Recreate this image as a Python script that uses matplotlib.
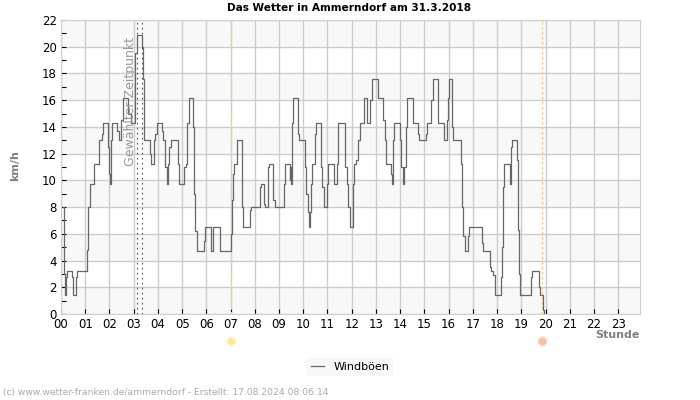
import matplotlib
matplotlib.use('Agg')
import matplotlib.pyplot as plt

# hours since midnight / gusts in km/h
hours = [0.08, 0.11, 0.14, 0.17, 0.19, 0.24, 0.40, 0.44, 0.51, 0.57, 0.62, 0.68, 1.06, 1.09, 1.13, 1.18, 1.34,
         1.38, 1.47, 1.56, 1.62, 1.68, 1.74, 1.89, 1.95, 2.00, 2.03, 2.06, 2.12, 2.27, 2.32, 2.38, 2.45, 2.49,
         2.55, 2.70, 2.78, 2.89, 3.00, 3.07, 3.13, 3.28, 3.33, 3.39, 3.42, 3.44, 3.61, 3.67, 3.71, 3.78, 3.83,
         3.90, 3.96, 4.11, 4.16, 4.22, 4.27, 4.31, 4.37, 4.41, 4.47, 4.52, 4.77, 4.83, 4.87, 5.03, 5.08, 5.15,
         5.21, 5.27, 5.44, 5.46, 5.50, 5.55, 5.60, 5.86, 5.91, 5.93, 6.15, 6.21, 6.29, 6.49, 6.56, 6.97, 7.00,
         7.05, 7.09, 7.13, 7.26, 7.42, 7.46, 7.50, 7.74, 7.81, 7.84, 8.15, 8.22, 8.25, 8.32, 8.36, 8.42, 8.50,
         8.55, 8.58, 8.73, 8.77, 8.82, 9.15, 9.19, 9.24, 9.40, 9.44, 9.46, 9.49, 9.53, 9.58, 9.73, 9.78, 9.82,
         10.02, 10.06, 10.11, 10.18, 10.22, 10.25, 10.28, 10.33, 10.38, 10.43, 10.48, 10.53, 10.68, 10.72, 10.78,
         10.85, 10.93, 10.98, 11.02, 11.19, 11.26, 11.34, 11.38, 11.42, 11.67, 11.74, 11.81, 11.85, 11.92, 12.00,
         12.04, 12.10, 12.18, 12.25, 12.33, 12.40, 12.50, 12.58, 12.62, 12.67, 12.75, 12.83, 13.00, 13.07, 13.26,
         13.30, 13.36, 13.41, 13.58, 13.62, 13.66, 13.70, 13.74, 13.92, 13.98, 14.05, 14.12, 14.17, 14.23, 14.28,
         14.45, 14.52, 14.68, 14.74, 14.78, 15.01, 15.06, 15.10, 15.24, 15.29, 15.35, 15.51, 15.57, 15.62, 15.76,
         15.82, 15.90, 15.93, 15.97, 16.01, 16.09, 16.14, 16.18, 16.48, 16.52, 16.56, 16.61, 16.68, 16.76, 16.80,
         16.84, 17.34, 17.39, 17.42, 17.67, 17.72, 17.76, 17.83, 17.90, 18.11, 18.18, 18.22, 18.25, 18.29, 18.44,
         18.52, 18.56, 18.62, 18.79, 18.83, 18.87, 18.91, 18.95, 19.35, 19.40, 19.45, 19.68, 19.73, 19.78, 19.85,
         19.88, 19.91, 19.95]
gusts = [8.0, 6.3, 3.0, 1.4, 2.8, 3.2, 3.2, 2.8, 1.4, 1.4, 2.8, 3.2, 3.2, 4.8, 8.0, 9.7, 9.7,
         11.2, 11.2, 13.0, 13.0, 13.5, 14.3, 14.3, 12.5, 10.5, 9.7, 13.0, 14.3, 14.3, 13.7, 13.0, 13.0, 14.5,
         16.2, 16.2, 15.0, 14.3, 14.3, 19.5, 20.9, 20.9, 20.0, 17.6, 14.0, 13.0, 13.0, 12.0, 11.2, 11.2, 13.0,
         13.5, 14.3, 14.3, 13.7, 13.0, 13.0, 11.0, 9.7, 11.2, 12.5, 13.0, 13.0, 11.2, 9.7, 9.7, 11.0, 11.2,
         14.3, 16.2, 16.2, 14.0, 9.0, 6.2, 4.7, 4.7, 5.5, 6.5, 6.5, 4.7, 6.5, 6.5, 4.7, 4.7, 6.0,
         8.5, 10.5, 11.2, 13.0, 13.0, 8.0, 6.5, 6.5, 7.8, 8.0, 8.0, 9.5, 9.7, 9.7, 8.2, 8.0, 8.0,
         11.0, 11.2, 11.2, 8.5, 8.0, 8.0, 9.7, 11.2, 11.2, 10.0, 11.0, 9.7, 14.3, 16.2, 16.2, 13.5, 13.0,
         13.0, 11.0, 9.0, 7.6, 7.6, 6.5, 7.6, 9.7, 11.2, 11.2, 13.5, 14.3, 14.3, 11.0, 9.5,
         8.0, 8.0, 9.7, 11.2, 11.2, 9.7, 9.7, 11.2, 14.3, 14.3, 11.0, 9.7, 8.0, 6.5, 6.5,
         9.7, 11.2, 11.5, 13.0, 14.3, 14.3, 16.2, 16.2, 14.3, 14.3, 16.0, 17.6, 17.6, 16.2, 16.2,
         14.5, 13.0, 11.2, 11.2, 10.5, 9.7, 13.0, 14.3, 14.3, 13.0, 11.0, 9.7, 11.0, 14.0, 16.2,
         16.2, 14.3, 14.3, 13.5, 13.0, 13.0, 13.5, 14.3, 14.3, 16.0, 17.6, 17.6, 14.3, 14.3, 14.3,
         13.0, 13.0, 14.5, 16.2, 17.6, 17.6, 14.0, 13.0, 13.0, 11.2, 8.0, 5.8, 4.7, 4.7, 5.8,
         6.5, 6.5, 5.3, 4.7, 4.7, 3.5, 3.2, 2.9, 1.4, 1.4, 2.8, 5.0, 9.5, 11.2, 11.2,
         9.7, 12.5, 13.0, 13.0, 11.5, 6.3, 3.0, 1.4, 1.4, 2.8, 3.2, 3.2, 2.0, 1.4, 1.4,
         1.0, 0.3, 0.0]
hour_labels = ['%02d' % h for h in range(24)]
selected_times = [3.13, 3.33]
sunrise = 7.0
sunset = 19.87

W, H = 700, 400
fig = plt.figure(figsize=(7, 4), dpi=100, facecolor='white')
ax = fig.add_axes([61/W, 1-314/H, 579/W, 294/H])
ax.set_xlim(0, 23.9)
ax.set_ylim(0, 22)

# stripes and grid
for y in range(0, 22, 4):
    ax.axhspan(y, y+2, color='#f8f8f8', lw=0, zorder=0)
ax.set_xticks(range(24))
ax.set_xticklabels(hour_labels)
ax.set_yticks(range(0, 23, 2))
ax.set_yticks(range(1, 22, 2), minor=True)
ax.grid(True, which='major', color='#cccccc', lw=1.0, zorder=1)
ax.set_axisbelow(True)
ax.tick_params(axis='both', which='major', direction='in', length=3.5, width=0.8, labelsize=8.5, color='black', pad=3)
ax.tick_params(axis='y', which='minor', direction='in', length=3.5, width=0.8, color='black')
for s in ax.spines.values():
    s.set_color('#d0d0d0')

for t in selected_times:
    ax.axvline(t, color='#555555', lw=0.8, ls=(0, (1.5, 3)), zorder=2)
ax.axvline(sunrise, color='#f5dc50', lw=0.9, ls=(0, (2, 2)), zorder=2)
ax.axvline(sunset, color='#f5c890', lw=0.9, ls=(0, (2, 2)), zorder=2)

line, = ax.plot(hours, gusts, drawstyle='steps-post', color='#666666', lw=0.9, zorder=3, label='Windböen')

ax.text(2.85, 15.9, 'Gewählter Zeitpunkt', rotation=90, ha='center', va='center', fontsize=9, color='#999999', zorder=4)

fig.text(349/W, 1-8/H, 'Das Wetter in Ammerndorf am 31.3.2018', ha='center', va='center', fontsize=7.6, fontweight='bold')
fig.text(15/W, 1-166/H, 'km/h', rotation=90, ha='center', va='center', fontsize=8, fontweight='bold', color='#808080')
fig.text(640/W, 1-335/H, 'Stunde', ha='right', va='center', fontsize=8, fontweight='bold', color='#808080')
fig.text(3/W, 1-393/H, '(c) www.wetter-franken.de/ammerndorf - Erstellt: 17.08.2024 08:06:14', ha='left', va='center', fontsize=6.6, color='#aaaaaa')

# sun symbols under the axis
for t, col in [(sunrise, '#fbe9a0'), (sunset, '#fbbfa8')]:
    ax.plot([t], [-2.0], marker=(12, 1, 0), ms=9, color=col, mew=0, clip_on=False, zorder=5)
    ax.plot([t], [-2.0], marker='o', ms=5, color=col, mew=0, clip_on=False, zorder=5)

leg = fig.legend(handles=[line], loc='center', bbox_to_anchor=(350/W, 1-367/H), fontsize=8, frameon=True,
                 facecolor='#f8f8f8', edgecolor='none', fancybox=False, framealpha=1, handlelength=1.2,
                 borderpad=0.35)

fig.savefig('out.png', dpi=100)
